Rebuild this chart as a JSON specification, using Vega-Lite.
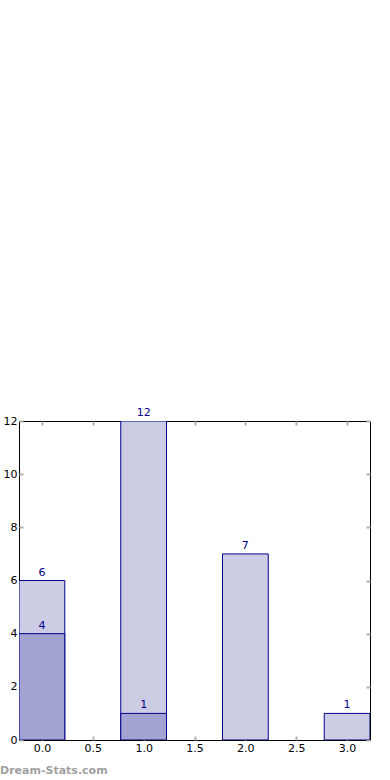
{
  "$schema": "https://vega.github.io/schema/vega-lite/v6.json",
  "width": 351,
  "height": 319,
  "autosize": "none",
  "padding": {"left": 19, "top": 421, "right": 20, "bottom": 40},
  "background": "white",
  "config": {
    "view": {"stroke": "black", "strokeWidth": 1},
    "font": "DejaVu Sans",
    "axis": {
      "grid": false,
      "domain": false,
      "tickColor": "#b0b0b0",
      "tickSize": -4,
      "tickWidth": 2,
      "labelColor": "black",
      "labelFont": "DejaVu Sans",
      "labelFontSize": 11,
      "title": null
    }
  },
  "title": {
    "text": "Dream-Stats.com",
    "orient": "bottom",
    "anchor": "start",
    "frame": "group",
    "dx": -19,
    "offset": 12,
    "font": "DejaVu Sans",
    "fontSize": 11,
    "fontWeight": "bold",
    "color": "#a0a0a0"
  },
  "data": {
    "values": [
      {"x": 0, "value": 6, "series": "light"},
      {"x": 1, "value": 12, "series": "light"},
      {"x": 2, "value": 7, "series": "light"},
      {"x": 3, "value": 1, "series": "light"},
      {"x": 0, "value": 4, "series": "dark"},
      {"x": 1, "value": 1, "series": "dark"}
    ]
  },
  "layer": [
    {
      "mark": {"type": "bar", "size": 45.75, "stroke": "#00008b", "strokeWidth": 1, "clip": true},
      "encoding": {
        "x": {"field": "x", "type": "quantitative", "scale": {"domain": [-0.225, 3.225], "nice": false, "zero": false, "padding": 0},
              "axis": {"orient": "bottom", "values": [0, 0.5, 1, 1.5, 2, 2.5, 3], "format": ".1f", "labelPadding": 6}},
        "y": {"field": "value", "type": "quantitative", "stack": null, "scale": {"domain": [0, 12], "nice": false},
              "axis": {"orient": "left", "values": [0, 2, 4, 6, 8, 10, 12], "labelPadding": 6}},
        "fill": {"field": "series", "type": "nominal", "scale": {"domain": ["light", "dark"], "range": ["#ccccE5", "#a3a3d1"]}, "legend": null},
        "order": {"field": "value", "type": "quantitative", "sort": "descending"}
      }
    },
    {
      "mark": {"type": "text", "fontSize": 11, "color": "#00008b", "baseline": "alphabetic", "dy": -5},
      "encoding": {
        "x": {"field": "x", "type": "quantitative", "axis": {"orient": "top", "labels": false, "values": [0, 0.5, 1, 1.5, 2, 2.5, 3]}},
        "y": {"field": "value", "type": "quantitative", "stack": null, "axis": {"orient": "right", "labels": false, "values": [0, 2, 4, 6, 8, 10, 12]}},
        "text": {"field": "value", "type": "quantitative"}
      }
    }
  ]
}
